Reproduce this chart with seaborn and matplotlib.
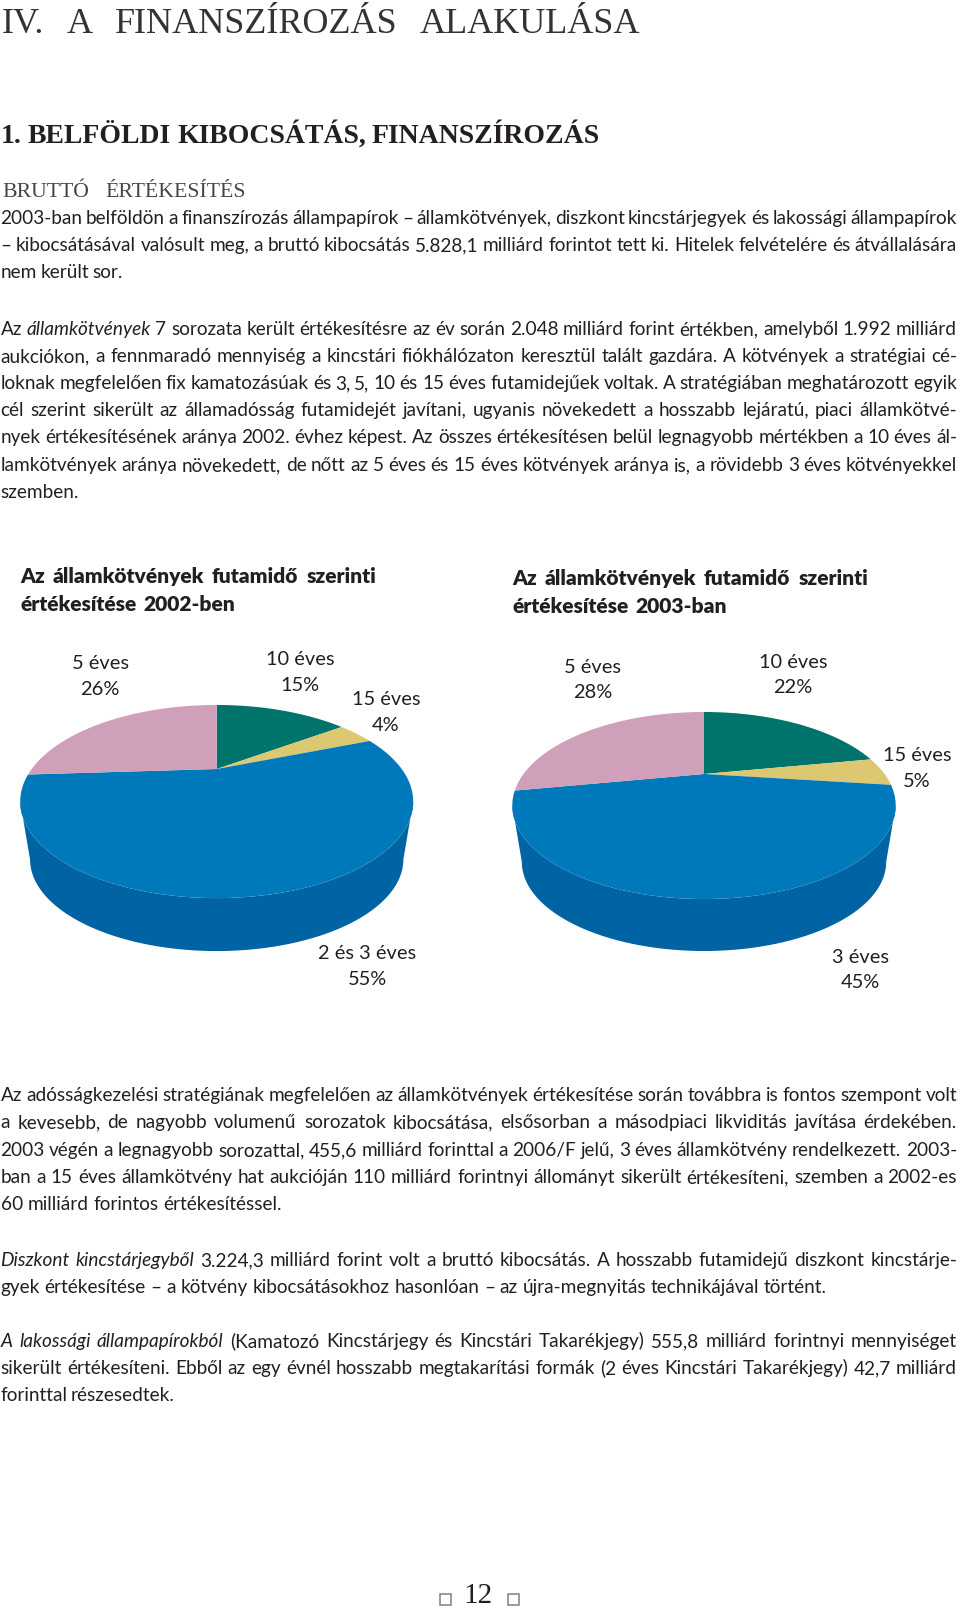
import numpy as np
import seaborn as sns
from matplotlib import pyplot as plt
from matplotlib.patches import Rectangle

# chart data, clockwise from twelve o'clock
labels_2002 = ['10 éves', '15 éves', '2 és 3 éves', '5 éves']
values_2002 = [15, 4, 55, 26]
labels_2003 = ['10 éves', '15 éves', '3 éves', '5 éves']
values_2003 = [22, 5, 45, 28]
colors = ['#00736a', '#dcc870', '#0079bb', '#d09fba']
side_color = '#0063a3'

title_2002 = ['Az államkötvények futamidő szerinti', 'értékesítése 2002-ben']
title_2003 = ['Az államkötvények futamidő szerinti', 'értékesítése 2003-ban']

# (text, baseline y, right edge x); *...* marks italics
body_lines = [
    ('2003-ban belföldön a finanszírozás állampapírok – államkötvények, diszkont kincstárjegyek és lakossági állampapírok', 224, 957),
    ('– kibocsátásával valósult meg, a bruttó kibocsátás 5.828,1 milliárd forintot tett ki. Hitelek felvételére és átvállalására', 251, 957),
    ('nem került sor.', 278, 123),
    ('Az *államkötvények* 7 sorozata került értékesítésre az év során 2.048 milliárd forint értékben, amelyből 1.992 milliárd', 335, 957),
    ('aukciókon, a fennmaradó mennyiség a kincstári fiókhálózaton keresztül talált gazdára. A kötvények a stratégiai cé-', 362, 957),
    ('loknak megfelelően fix kamatozásúak és 3, 5, 10 és 15 éves futamidejűek voltak. A stratégiában meghatározott egyik', 389, 957),
    ('cél szerint sikerült az államadósság futamidejét javítani, ugyanis növekedett a hosszabb lejáratú, piaci államkötvé-', 416, 957),
    ('nyek értékesítésének aránya 2002. évhez képest. Az összes értékesítésen belül legnagyobb mértékben a 10 éves ál-', 443, 957),
    ('lamkötvények aránya növekedett, de nőtt az 5 éves és 15 éves kötvények aránya is, a rövidebb 3 éves kötvényekkel', 471, 957),
    ('szemben.', 498, 77),
    ('Az adósságkezelési stratégiának megfelelően az államkötvények értékesítése során továbbra is fontos szempont volt', 1101, 957),
    ('a kevesebb, de nagyobb volumenű sorozatok kibocsátása, elsősorban a másodpiaci likviditás javítása érdekében.', 1128, 957),
    ('2003 végén a legnagyobb sorozattal, 455,6 milliárd forinttal a 2006/F jelű, 3 éves államkötvény rendelkezett. 2003-', 1156, 957),
    ('ban a 15 éves államkötvény hat aukcióján 110 milliárd forintnyi állományt sikerült értékesíteni, szemben a 2002-es', 1183, 957),
    ('60 milliárd forintos értékesítéssel.', 1210, 282),
    ('*Diszkont kincstárjegyből* 3.224,3 milliárd forint volt a bruttó kibocsátás. A hosszabb futamidejű diszkont kincstárje-', 1266, 957),
    ('gyek értékesítése – a kötvény kibocsátásokhoz hasonlóan – az újra-megnyitás technikájával történt.', 1293, 827),
    ('*A lakossági állampapírokból* (Kamatozó Kincstárjegy és Kincstári Takarékjegy) 555,8 milliárd forintnyi mennyiséget', 1347, 957),
    ('sikerült értékesíteni. Ebből az egy évnél hosszabb megtakarítási formák (2 éves Kincstári Takarékjegy) 42,7 milliárd', 1374, 957),
    ('forinttal részesedtek.', 1401, 175),
]

SANS = ['Lato', 'Liberation Sans', 'DejaVu Sans']
SERIF = ['Liberation Serif', 'DejaVu Serif']
INK = '#231f20'
K = 0.337  # perspective strength of the pie disc

sns.set_theme(style='white')
palette = sns.color_palette(colors)
plt.rcParams['font.family'] = SANS

fig = plt.figure(figsize=(9.6, 16.09), dpi=100, facecolor='white')
page = fig.add_axes([0, 0, 1, 1], zorder=5)
page.set_xlim(0, 960)
page.set_ylim(1609, 0)
page.axis('off')
renderer = fig.canvas.get_renderer()


def text_width(s, size, **kw):
    t = page.text(0, 0, s, fontsize=size, **kw)
    w = t.get_window_extent(renderer).width
    t.remove()
    return w


def justify(line, y, x_end, x0=0.5, size=13.68, color=INK, **kw):
    # the font cannot be stretched, so words are set one by one with even gaps up to x_end
    words = []
    for i, part in enumerate(line.split('*')):
        words += [(w, 'italic' if i % 2 else 'normal') for w in part.split()]
    widths = [text_width(w, size, style=st, **kw) for w, st in words]
    gap = (x_end - x0 - sum(widths)) / max(len(words) - 1, 1)
    x = x0
    for (w, st), width in zip(words, widths):
        page.text(x, y, w, fontsize=size, style=st, color=color, va='baseline', ha='left', **kw)
        x += width + gap


def project(t, a, b):
    u, v = np.cos(t), np.sin(t)
    d = 1 + K * v
    return a * u / d, b * v / d


def draw_pie(values, cx, cy, a, b, scale, drop):
    w = 240
    ax = fig.add_axes([(cx - w) / 960, 1 - (cy + w) / 1609, 2 * w / 960, 2 * w / 1609])
    ax.set_xlim(-w, w)
    ax.set_ylim(-w, w)
    ax.axis('off')

    # side wall between the widest points of the top disc and the smaller bottom disc
    t0 = np.arcsin(K)
    t = np.linspace(np.pi + t0, 2 * np.pi - t0, 200)
    x, y = project(t, a, b)
    ax.fill(np.r_[x, scale * x[::-1]], np.r_[y, scale * y[::-1] - drop], color=side_color, lw=0)

    edges = np.r_[0, np.cumsum(values)] / np.sum(values)
    for start, end, c in zip(edges[:-1], edges[1:], palette):
        t = np.pi / 2 - 2 * np.pi * np.linspace(start, end, 120)
        x, y = project(t, a, b)
        ax.fill(np.r_[0, x], np.r_[0, y], color=c, lw=0)
    return ax


def pie_labels(labels, values, spots):
    for lab, val, (x, y1, y2) in zip(labels, values, spots):
        page.text(x, y1, lab, fontsize=14.4, color=INK, ha='center', va='baseline')
        page.text(x, y2, '%d%%' % val, fontsize=14.4, color=INK, ha='center', va='baseline')


# headings
justify('IV. A FINANSZÍROZÁS ALAKULÁSA', 33, 640, x0=2, size=26, family=SERIF, color='#333333')
justify('1. BELFÖLDI KIBOCSÁTÁS, FINANSZÍROZÁS', 143, 600, x0=1, size=20, family=SERIF, weight='bold')
justify('BRUTTÓ ÉRTÉKESÍTÉS', 197, 246, x0=2, size=15.7, family=SERIF, color='#444444')

for line, y, x_end in body_lines:
    justify(line, y, x_end)

# charts
draw_pie(values_2002, 216.7, 769, 185, 85.6, 0.95, 59.4)
draw_pie(values_2003, 704, 774, 180.5, 82.9, 0.95, 58.2)

justify(title_2002[0], 583, 376, x0=20.5, size=15.12, weight='heavy')
justify(title_2002[1], 611, 235, x0=20.5, size=15.12, weight='heavy')
justify(title_2003[0], 585, 868, x0=512.5, size=15.12, weight='heavy')
justify(title_2003[1], 613, 727, x0=512.5, size=15.12, weight='heavy')

pie_labels(labels_2002, values_2002,
           [(300, 665, 691), (386, 705, 731), (367, 959, 985), (100, 669, 695)])
pie_labels(labels_2003, values_2003,
           [(793, 668, 693), (917, 761, 787), (860, 963, 988), (593, 673, 698)])

# page number
page.text(478.5, 1603, '12', fontsize=21, family=SERIF, color=INK, ha='center', va='baseline')
for x in (439.5, 507.5):
    page.add_patch(Rectangle((x, 1594), 11, 11, fc='white', ec='#808080', lw=1.1))

fig.savefig('out.png', dpi=100, facecolor='white')
